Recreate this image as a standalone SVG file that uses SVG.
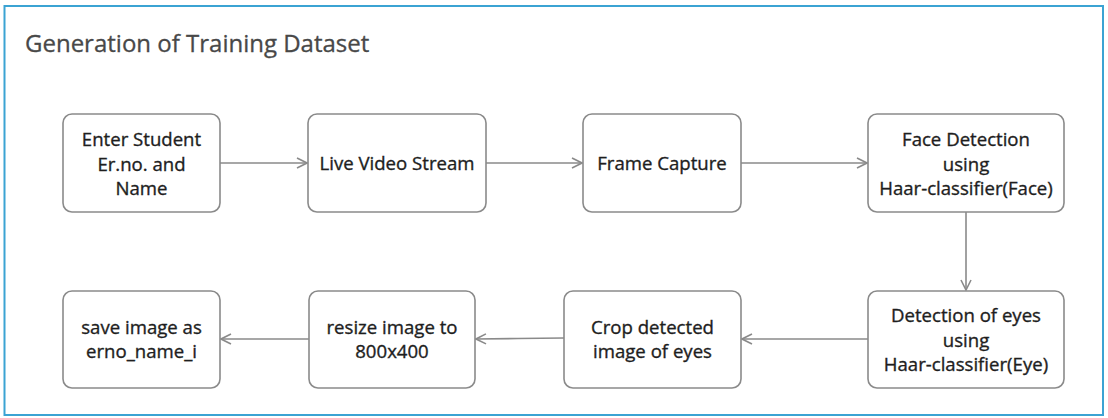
<svg xmlns="http://www.w3.org/2000/svg" width="1108" height="418" viewBox="0 0 1108 418">
<defs>
<style>
.frame{fill:#ffffff;stroke:#3ba3d3;stroke-width:2}
.box{fill:#ffffff;stroke:#8a8a8a;stroke-width:1.6}
.lbl{font-family:"Open Sans","Noto Sans",sans-serif;font-size:18.6px;fill:#1e1e1e;stroke:#1e1e1e;stroke-width:0.35;text-anchor:middle}
.title{font-family:"Open Sans","Noto Sans",sans-serif;font-size:24px;fill:#484848;stroke:#484848;stroke-width:0.3}
.edge{fill:none;stroke:#8a8a8a;stroke-width:1.6}
</style>
<marker id="arr" viewBox="0 0 12 12" refX="11" refY="6" markerWidth="12" markerHeight="12" markerUnits="userSpaceOnUse" orient="auto">
<path d="M1,1 L11,6 L1,11" fill="none" stroke="#8a8a8a" stroke-width="1.6"/>
</marker>
</defs>
<rect width="1108" height="418" fill="#ffffff"/>
<rect class="frame" x="4.5" y="6" width="1098.5" height="409"/>
<text class="title" x="25" y="52">Generation of Training Dataset</text>
<g id="edges">
<path class="edge" d="M220,163 L307,163" marker-end="url(#arr)"/>
<path class="edge" d="M486,163 L582,163" marker-end="url(#arr)"/>
<path class="edge" d="M741,163 L867,163" marker-end="url(#arr)"/>
<path class="edge" d="M966,212 L966,290" marker-end="url(#arr)"/>
<path class="edge" d="M868,339 L742,339" marker-end="url(#arr)"/>
<path class="edge" d="M564,338 L518,338.5 L476,339" marker-end="url(#arr)"/>
<path class="edge" d="M309,339 L221,339" marker-end="url(#arr)"/>
</g>
<g id="n1">
<rect class="box" x="63" y="114" width="157" height="98" rx="9"/>
<text class="lbl" x="141.5" y="146">Enter Student</text>
<text class="lbl" x="141.5" y="170.5">Er.no. and</text>
<text class="lbl" x="141.5" y="195">Name</text>
</g>
<g id="n2">
<rect class="box" x="308" y="114" width="178" height="98" rx="9"/>
<text class="lbl" x="397" y="170">Live Video Stream</text>
</g>
<g id="n3">
<rect class="box" x="583" y="114" width="158" height="98" rx="9"/>
<text class="lbl" x="662" y="170">Frame Capture</text>
</g>
<g id="n4">
<rect class="box" x="868" y="114" width="196" height="98" rx="9"/>
<text class="lbl" x="966" y="146">Face Detection</text>
<text class="lbl" x="966" y="170.5">using</text>
<text class="lbl" x="966" y="195">Haar-classifier(Face)</text>
</g>
<g id="n5">
<rect class="box" x="868" y="291" width="196" height="97" rx="9"/>
<text class="lbl" x="966" y="322">Detection of eyes</text>
<text class="lbl" x="966" y="346.5">using</text>
<text class="lbl" x="966" y="371">Haar-classifier(Eye)</text>
</g>
<g id="n6">
<rect class="box" x="564" y="291" width="177" height="97" rx="9"/>
<text class="lbl" x="652.5" y="333.5">Crop detected</text>
<text class="lbl" x="652.5" y="358">image of eyes</text>
</g>
<g id="n7">
<rect class="box" x="309" y="291" width="166" height="97" rx="9"/>
<text class="lbl" x="392" y="333.5">resize image to</text>
<text class="lbl" x="392" y="358">800x400</text>
</g>
<g id="n8">
<rect class="box" x="63" y="291" width="157" height="97" rx="9"/>
<text class="lbl" x="141.5" y="333.5">save image as</text>
<text class="lbl" x="141.5" y="358">erno_name_i</text>
</g>
</svg>
